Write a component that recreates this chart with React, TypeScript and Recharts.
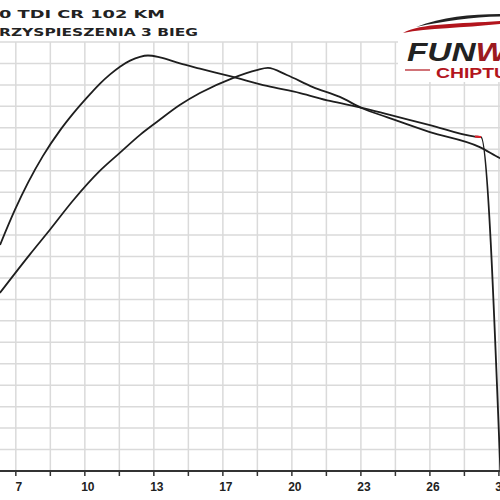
import React from 'react';
import { LineChart, Line, XAxis, YAxis, CartesianGrid, ReferenceLine } from 'recharts';

// krzywa 1 (wczesny szczyt) - predkosc km/h i wartosc
const momentSpeed = [6.05, 6.76, 7.38, 8.09, 8.9, 9.52, 10.33, 10.8, 11.28, 11.75, 12.23, 12.7, 13.08, 13.65, 14.6, 15.55, 17.12, 18.74, 20.31, 21.73, 23.3, 24.58, 26.48, 28.62, 28.91, 29.83];
const momentValue = [105.4, 121.8, 134.4, 146.9, 158.8, 166.6, 175.7, 180.6, 184.9, 188.5, 191.3, 193.1, 193.7, 192.8, 190, 187.6, 183.7, 179.5, 176.2, 172.5, 169.2, 166, 161.3, 155.9, 155.7, 0];

// krzywa 2 (pozny szczyt)
const powerSpeed = [6.04, 7.47, 8.42, 9.51, 10.79, 11.74, 12.69, 13.5, 14.59, 15.55, 17.11, 18.25, 18.78, 19.68, 20.92, 22.2, 23.29, 24.43, 26.48, 28.85, 29.8, 30.09];
const powerValue = [83, 101, 112.5, 126, 139.9, 148.3, 156.6, 162.7, 170.6, 176.2, 183.2, 186.9, 187.9, 184.6, 179, 174.4, 169, 165, 158, 151, 145.9, 144.5];

// czerwony znacznik konca pomiaru
const endSpeed = [28.62, 28.91];
const endValue = [155.9, 155.7];

const xTicks = [6.8, 8.44, 10.08, 11.72, 13.36, 15, 16.64, 18.28, 19.92, 21.56, 23.2, 24.84, 26.48, 28.12, 29.76];
const xLabels = ['7', '', '10', '', '13', '', '17', '', '20', '', '23', '', '26', '', '30'];
const yTicks = [0, 10, 20, 30, 40, 50, 60, 70, 80, 90, 100, 110, 120, 130, 140, 150, 160, 170, 180, 190, 200];

const titleLines = ['0 TDI CR 102 KM', 'RZYSPIESZENIA 3 BIEG'];

const toRows = (xs: number[], ys: number[]) => xs.map((x, i) => ({ x, y: ys[i] }));

export default function App() {
  const momentData = toRows(momentSpeed, momentValue);
  const powerData = toRows(powerSpeed, powerValue);
  const endData = toRows(endSpeed, endValue);

  return (
    <div style={{ position: 'absolute', left: 0, top: 0, width: 500, height: 500, overflow: 'hidden', background: '#fff' }}>
      <div style={{ position: 'absolute', left: -1, top: 0 }}>
        <LineChart width={526} height={501} margin={{ top: 42, right: 0, bottom: 0, left: 0 }}>
          <CartesianGrid stroke="#dadada" strokeWidth={1.5} horizontal={false} />
          {yTicks.map((t) => (
            <ReferenceLine key={t} y={t} stroke="#dadada" strokeWidth={1.5} />
          ))}
          <XAxis
            type="number"
            dataKey="x"
            domain={[6, 31]}
            ticks={xTicks}
            interval={0}
            allowDataOverflow
            height={30}
            tickFormatter={(v: number) => xLabels[xTicks.indexOf(v)] ?? ''}
            axisLine={{ stroke: '#333', strokeWidth: 2 }}
            tickLine={{ stroke: '#333', strokeWidth: 1.5 }}
            tickSize={5}
            tickMargin={6}
            tick={{ fill: '#222', fontSize: 12, fontWeight: 'bold', fontFamily: 'Liberation Sans', dx: 3 }}
          />
          <YAxis type="number" domain={[0, 200]} ticks={yTicks} hide />
          <Line data={powerData} dataKey="y" type="monotone" stroke="#1e1e1e" strokeWidth={1.8} dot={false} isAnimationActive={false} />
          <Line data={momentData} dataKey="y" type="monotone" stroke="#1e1e1e" strokeWidth={1.8} dot={false} isAnimationActive={false} />
          <Line data={endData} dataKey="y" stroke="#e8202a" strokeWidth={2} dot={false} isAnimationActive={false} />
        </LineChart>
      </div>
      <svg width={500} height={90} style={{ position: 'absolute', left: 0, top: 0 }}>
        <text x={-1} y={18} fontFamily="DejaVu Sans" fontWeight="bold" fontSize={11} fill="#222" textLength={166} lengthAdjust="spacingAndGlyphs">
          {titleLines[0]}
        </text>
        <text x={-1} y={36} fontFamily="DejaVu Sans" fontWeight="bold" fontSize={11} fill="#222" textLength={199} lengthAdjust="spacingAndGlyphs">
          {titleLines[1]}
        </text>
        <rect x={398} y={0} width={102} height={82} fill="#fff" />
        <path d="M403,33 C420,23 460,24 500,21 L500,24 C462,28 428,28 403,33 Z" fill="#b3151d" />
        <path d="M416,27 C442,17 470,14 500,14 L500,16.5 C472,17 444,21 416,27 Z" fill="#222" />
        <text x={407} y={61} fontFamily="Liberation Sans" fontWeight="bold" fontStyle="italic" fontSize={26} fill="#222" textLength={100} lengthAdjust="spacingAndGlyphs">
          FUN<tspan fill="#9c1a1f">W</tspan>
        </text>
        <line x1={405} y1={70} x2={430} y2={70} stroke="#b3151d" strokeWidth={1.2} />
        <text x={436} y={77.5} fontFamily="Liberation Sans" fontWeight="bold" fontSize={14.5} fill="#b3151d" textLength={72} lengthAdjust="spacingAndGlyphs">
          CHIPTU
        </text>
      </svg>
    </div>
  );
}
